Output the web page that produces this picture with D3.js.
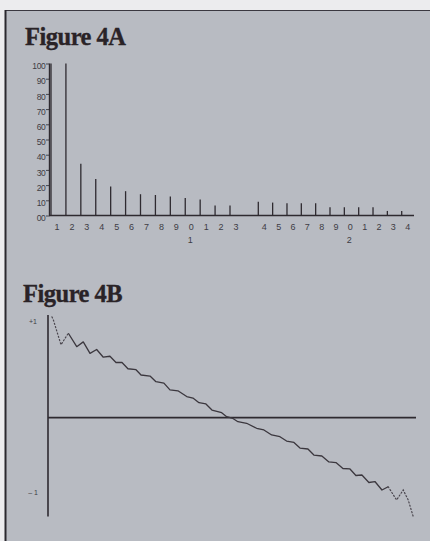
<!DOCTYPE html>
<html>
<head>
<meta charset="utf-8">
<script src="https://cdn.jsdelivr.net/npm/d3@7"></script>
<style>
html, body { margin: 0; padding: 0; background: #ececee; }
svg { display: block; }
.title { font-family: "Liberation Serif", serif; font-weight: bold; font-size: 24.5px; fill: #2a2327;
         stroke: #2a2327; stroke-width: 0.35px; letter-spacing: -0.5px; }
.tick text, .lbl { font-family: "Liberation Sans", sans-serif; font-size: 8.5px; fill: #3e3c44; }
</style>
</head>
<body>
<svg></svg>
<script>
///////////////////////////////////////////
// Data
var harmonics  = [1,2,3,4,5,6,7,8,9,10,11,12,13,14,15,16,17,18,19,20,21,22,23,24];
var amplitudes = [100,100,34,24,19,16,14,13.5,12.5,11.5,10.5,6.5,6.5,9,8.5,8,8,8,5.5,5.5,5.5,5.5,3,3];
var yTicksA    = [0,10,20,30,40,50,60,70,80,90,100];
var tensLabels = [[10,"1"],[20,"2"]];          // tens digit under harmonic 10 / 20

// Figure 4B: one period (degrees) vs level
var waveHead = [[3.9,1.05],[5.2,1.02],[7.8,0.93],[12.7,0.76],[19.9,0.88]];
var waveBody = [[19.9,0.88],[28.1,0.74],[34.5,0.79],[41.1,0.67],[47.6,0.71],[54.1,0.63],
  [60.6,0.64],[66.5,0.575],[72.4,0.575],[78.2,0.51],[86.1,0.50],[91.0,0.445],[99.8,0.434],
  [105.6,0.375],[113.4,0.36],[119.3,0.29],[127.1,0.28],[135.7,0.22],[141.8,0.205],[147.7,0.156],
  [154.5,0.143],[160.4,0.08],[169.9,0.052],[174.8,0.01],[180.9,-0.008],[185.8,-0.042],
  [194.3,-0.058],[204.1,-0.11],[211.2,-0.128],[218.8,-0.18],[226.9,-0.198],[233.4,-0.243],
  [240.6,-0.258],[246.5,-0.316],[254.3,-0.326],[260.1,-0.389],[267.9,-0.399],[274.8,-0.461],
  [281.7,-0.467],[288.5,-0.529],[295.4,-0.534],[301.2,-0.602],[307.1,-0.597],[313.9,-0.675],
  [319.8,-0.665],[326.7,-0.753],[332.8,-0.719]];
var waveTail = [[332.8,-0.719],[341.0,-0.857],[347.5,-0.753],[352.4,-0.857],[357.3,-1.03]];
var levelLabels = [["+1",1],["\u2013 1",-0.78]];

///////////////////////////////////////////
// Layout
var svgWidth = 430, svgHeight = 541;
var svg = d3.select("svg").attr("width", svgWidth).attr("height", svgHeight);
var ink = "#2e2a30";

// panel
svg.append("rect").attr("x", 5).attr("y", 10).attr("width", 425).attr("height", 531)
   .attr("fill", "#b8bbc2");
svg.append("line").attr("x1", 5).attr("x2", 430).attr("y1", 10.5).attr("y2", 10.5)
   .attr("stroke", "#3a3840").attr("stroke-width", 1.2);
svg.append("line").attr("x1", 5.5).attr("x2", 5.5).attr("y1", 10).attr("y2", 541)
   .attr("stroke", "#2a282e").attr("stroke-width", 2);

///////////////////////////////////////////
// Figure 4A
svg.append("text").attr("class", "title").attr("x", 25).attr("y", 45).text("Figure 4A");

// harmonic -> slot (13 and 14 have an empty slot between them)
var slotOf = function(n){ return n <= 13 ? n - 1 : n; };
var xA = d3.scaleLinear().domain([0, 12, 14, 24]).range([51, 230, 258.3, 401.7]);
var yA = d3.scaleLinear().domain([0, 100]).range([215.5, 63.5]);

var gA = svg.append("g");
var axA = gA.append("g").attr("transform", "translate(49.5,0)")
  .call(d3.axisLeft(yA).tickValues(yTicksA).tickSize(3.5).tickPadding(0.5)
          .tickFormat(function(d){ return d === 0 ? "00" : d; }));
axA.select(".domain").remove();
axA.selectAll(".tick line").attr("stroke", "#46444c").attr("stroke-width", 1);
axA.selectAll(".tick text").attr("dy", "0.6em").style("letter-spacing", "-0.3px");

gA.append("line").attr("x1", 49.5).attr("x2", 49.5).attr("y1", yA(0)).attr("y2", yA(100))
  .attr("stroke", ink).attr("stroke-width", 1.4);
gA.append("line").attr("x1", 49).attr("x2", 414).attr("y1", yA(0)).attr("y2", yA(0))
  .attr("stroke", ink).attr("stroke-width", 1.5);

gA.selectAll(".bar").data(harmonics).enter().append("line").attr("class", "bar")
  .attr("x1", function(d){ return xA(slotOf(d)); })
  .attr("x2", function(d){ return xA(slotOf(d)); })
  .attr("y1", yA(0))
  .attr("y2", function(d, i){ return yA(amplitudes[i]); })
  .attr("stroke", ink).attr("stroke-width", 1.3);

gA.selectAll(".hl").data(harmonics).enter().append("text").attr("class", "lbl")
  .attr("x", function(d){ return xA(slotOf(d)) + 6; })
  .attr("y", 230).attr("text-anchor", "middle").style("font-size", "9px")
  .text(function(d){ return d % 10; });
gA.selectAll(".tl").data(tensLabels).enter().append("text").attr("class", "lbl")
  .attr("x", function(d){ return xA(slotOf(d[0])) + 5; })
  .attr("y", 243).attr("text-anchor", "middle").style("font-size", "9px")
  .text(function(d){ return d[1]; });

///////////////////////////////////////////
// Figure 4B
svg.append("text").attr("class", "title").attr("x", 23).attr("y", 302).text("Figure 4B");

var xB = d3.scaleLinear().domain([0, 360]).range([48, 416]);
var yB = d3.scaleLinear().domain([-1, 1]).range([513.7, 321.7]);
var gB = svg.append("g");

gB.append("line").attr("x1", xB(0)).attr("x2", xB(0)).attr("y1", yB(1.07)).attr("y2", yB(-1.03))
  .attr("stroke", ink).attr("stroke-width", 1.6);
gB.append("line").attr("x1", xB(0)).attr("x2", xB(360)).attr("y1", yB(0)).attr("y2", yB(0))
  .attr("stroke", ink).attr("stroke-width", 1.8);

gB.selectAll(".lv").data(levelLabels).enter().append("text").attr("class", "lbl")
  .attr("x", 33).attr("y", function(d){ return yB(d[1]) + 2.5; })
  .attr("text-anchor", "middle").style("font-size", "7px")
  .text(function(d){ return d[0]; });

var line = d3.line().x(function(d){ return xB(d[0]); }).y(function(d){ return yB(d[1]); });
gB.append("path").attr("d", line(waveBody)).attr("fill", "none")
  .attr("stroke", "#3b373e").attr("stroke-width", 1.3).attr("stroke-linejoin", "round");
[waveHead, waveTail].forEach(function(seg){
  gB.append("path").attr("d", line(seg)).attr("fill", "none")
    .attr("stroke", "#4a464e").attr("stroke-width", 1.2)
    .attr("stroke-dasharray", "1.2,2.2").attr("stroke-linecap", "round");
});
</script>
</body>
</html>
